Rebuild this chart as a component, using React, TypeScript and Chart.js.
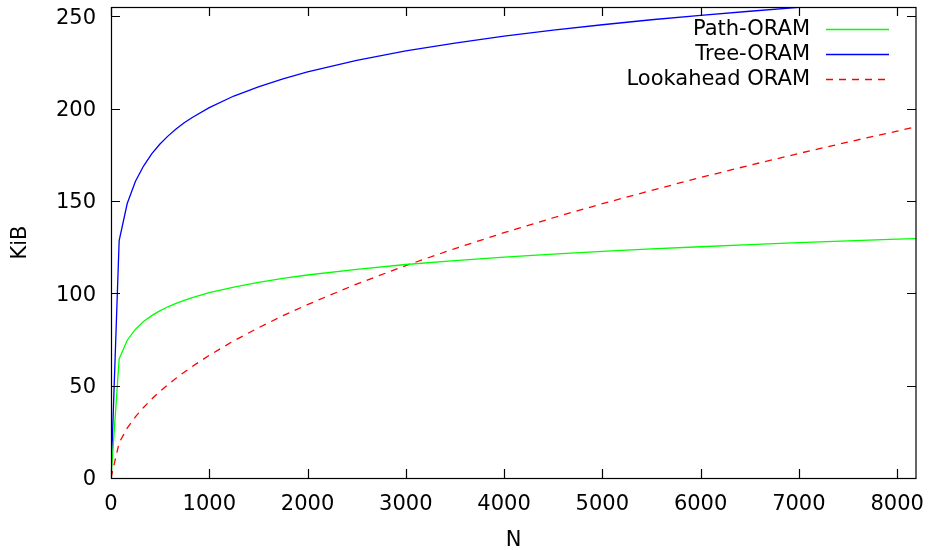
import { useEffect, useRef } from "react";
import { Chart, registerables } from "chart.js";
Chart.register(...registerables);

const nValues = [0, 83, 165, 248, 331, 414, 496, 579, 662, 745, 827, 1000, 1250, 1500, 1750, 2000, 2500, 3000, 3500, 4000, 4500, 5000, 5500, 6000, 6500, 7000, 7500, 8000, 8192];
const pathOram = [0, 64.5, 74.6, 80.5, 84.7, 87.9, 90.5, 92.7, 94.5, 96.2, 97.6, 100.3, 103.4, 105.9, 108.1, 109.9, 113.0, 115.6, 117.7, 119.6, 121.2, 122.7, 124.0, 125.2, 126.4, 127.4, 128.4, 129.3, 129.6];
const treeOram = [0, 128.5, 148.6, 160.5, 168.9, 175.5, 180.7, 185.1, 188.9, 192.3, 195.2, 200.5, 206.8, 211.8, 216.1, 219.9, 226.1, 231.2, 235.5, 239.2, 242.5, 245.4, 248.1, 250.5, 252.7, 254.8, 256.7, 258.5, 259.2];
const lookaheadOram = [0, 19.1, 27.0, 33.1, 38.2, 42.7, 46.8, 50.5, 54.0, 57.3, 60.4, 66.4, 74.3, 81.3, 87.9, 93.9, 105.0, 115.0, 124.2, 132.8, 140.9, 148.5, 155.7, 162.7, 169.3, 175.7, 181.9, 187.8, 190.1];
const xTicks = [0, 1000, 2000, 3000, 4000, 5000, 6000, 7000, 8000];
const yTicks = [0, 50, 100, 150, 200, 250];
const seriesLabels = ["Path-ORAM", "Tree-ORAM", "Lookahead ORAM"];

const FONT = "DejaVu Sans";

const framePlugin = {
  id: "gnuFrame",
  afterDraw(chart: any) {
    const { ctx, chartArea: a, scales } = chart;
    ctx.save();
    ctx.strokeStyle = "#000";
    ctx.lineWidth = 1.2;
    ctx.beginPath();
    for (const v of xTicks) {
      const px = Math.round(scales.x.getPixelForValue(v)) + 0.5;
      ctx.moveTo(px, a.bottom);
      ctx.lineTo(px, a.bottom - 9);
      ctx.moveTo(px, a.top);
      ctx.lineTo(px, a.top + 9);
    }
    for (const v of yTicks) {
      const py = Math.round(scales.y.getPixelForValue(v)) + 0.5;
      ctx.moveTo(a.left, py);
      ctx.lineTo(a.left + 9, py);
      ctx.moveTo(a.right, py);
      ctx.lineTo(a.right - 9, py);
    }
    ctx.stroke();
    ctx.strokeRect(a.left + 0.5, a.top + 0.5, a.right - a.left - 0.5, a.bottom - a.top);

    // legend
    ctx.font = `21px "${FONT}"`;
    ctx.textAlign = "right";
    ctx.textBaseline = "middle";
    chart.data.datasets.forEach((ds: any, i: number) => {
      const y = a.top + 22.3 + i * 24.9;
      ctx.fillStyle = "#000";
      ctx.fillText(ds.label, a.right - 106, y);
      ctx.beginPath();
      ctx.strokeStyle = ds.borderColor;
      ctx.lineWidth = 1.3;
      ctx.setLineDash(ds.borderDash || []);
      ctx.moveTo(a.right - 90, Math.round(y) + 0.5);
      ctx.lineTo(a.right - 27, Math.round(y) + 0.5);
      ctx.stroke();
      ctx.setLineDash([]);
    });
    ctx.restore();
  },
};

const zeroPad = (s: any) => {
  s.paddingTop = 0;
  s.paddingBottom = 0;
  s.paddingLeft = 0;
  s.paddingRight = 0;
};

export default function App() {
  const ref = useRef<HTMLCanvasElement | null>(null);
  useEffect(() => {
    document.body.style.margin = "0";
    Chart.defaults.font.family = FONT;
    Chart.defaults.font.size = 21;
    Chart.defaults.color = "#000";
    const mk = (vals: number[]) => nValues.map((n, i) => ({ x: n, y: vals[i] }));
    const chart = new Chart(ref.current as HTMLCanvasElement, {
      type: "line",
      data: {
        datasets: [
          { label: seriesLabels[0], data: mk(pathOram), borderColor: "#00ff00", borderWidth: 1.3, pointRadius: 0, tension: 0 },
          { label: seriesLabels[1], data: mk(treeOram), borderColor: "#0000ff", borderWidth: 1.3, pointRadius: 0, tension: 0 },
          { label: seriesLabels[2], data: mk(lookaheadOram), borderColor: "#ff0000", borderWidth: 1.3, borderDash: [7, 6], pointRadius: 0, tension: 0 },
        ],
      },
      options: {
        animation: false,
        responsive: false,
        layout: { padding: { top: 7, right: 14, left: 0, bottom: 0 } },
        plugins: { legend: { display: false }, tooltip: { enabled: false } },
        scales: {
          x: {
            type: "linear",
            min: 0,
            max: 8192,
            grid: { display: false, drawTicks: false },
            border: { display: false },
            ticks: { padding: 14, maxRotation: 0, autoSkip: false, callback: (v: any) => String(v) },
            afterBuildTicks: (s: any) => { s.ticks = xTicks.map((v) => ({ value: v })); },
            afterFit: (s: any) => { s.height = 72; zeroPad(s); },
            title: { display: true, text: "N", font: { size: 21 }, padding: { top: 0, bottom: -3 } },
          },
          y: {
            type: "linear",
            min: 0,
            max: 255,
            grid: { display: false, drawTicks: false },
            border: { display: false },
            ticks: { padding: 15, labelOffset: 2, callback: (v: any) => String(v) },
            afterBuildTicks: (s: any) => { s.ticks = yTicks.map((v) => ({ value: v })); },
            afterFit: (s: any) => { s.width = 111; zeroPad(s); },
            title: { display: true, text: "KiB", font: { size: 21 }, padding: { top: 8, bottom: 0 } },
          },
        },
      },
      plugins: [framePlugin],
    });
    return () => chart.destroy();
  }, []);
  return <canvas ref={ref} width={930} height={550} style={{ display: "block" }} />;
}
